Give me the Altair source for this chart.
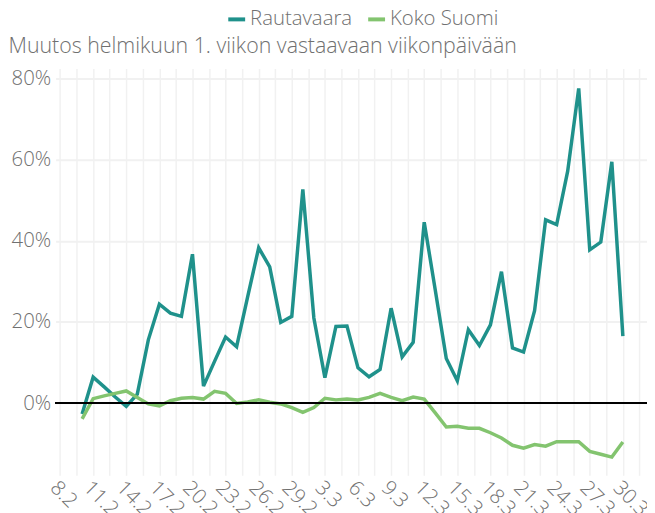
import altair as alt
import pandas as pd

# ---- data ----
dates = [d.strftime("%Y-%m-%d") for d in pd.date_range("2020-02-10", "2020-03-30", freq="D")]

rautavaara = [
    -2.7, 6.4, 4.0, 1.5, -0.8, 2.2, 15.6, 24.4, 22.2, 21.4,
    36.7, 4.2, 10.3, 16.3, 13.9, 26.2, 38.3, 33.6, 19.9, 21.4,
    52.7, 21.0, 6.3, 18.9, 19.0, 8.7, 6.5, 8.3, 23.4, 11.4,
    15.0, 44.6, 27.9, 11.0, 5.5, 18.1, 14.2, 19.3, 32.4, 13.6,
    12.6, 22.8, 45.2, 44.0, 57.2, 77.6, 37.8, 39.7, 59.5, 16.5,
]
koko_suomi = [
    -3.9, 1.1, 1.8, 2.4, 3.0, 1.4, -0.2, -0.7, 0.6, 1.2,
    1.4, 1.0, 2.9, 2.4, -0.1, 0.3, 0.8, 0.2, -0.2, -1.1,
    -2.3, -1.1, 1.2, 0.8, 1.0, 0.8, 1.4, 2.4, 1.4, 0.6,
    1.5, 1.0, -2.4, -5.9, -5.7, -6.2, -6.2, -7.3, -8.6, -10.4,
    -11.1, -10.2, -10.6, -9.5, -9.5, -9.5, -11.9, -12.6, -13.3, -9.6,
]
series_names = ["Rautavaara", "Koko Suomi"]
series_colors = ["#1f918b", "#83c46f"]
y_ticks = [0, 20, 40, 60, 80]
title_text = "Muutos helmikuun 1. viikon vastaavaan viikonpäivään"

rows = []
for d, v in zip(dates, rautavaara):
    rows.append({"date": d, "value": v, "series": series_names[0]})
for d, v in zip(dates, koko_suomi):
    rows.append({"date": d, "value": v, "series": series_names[1]})
df = pd.DataFrame(rows)

def ms(s):
    return int(pd.Timestamp(s, tz="UTC").value // 10**6)

x_domain = [ms("2020-02-07T14:24:00"), ms("2020-04-01T04:30:00")]
# grid every 36 hours, labels every 3 days
grid_values = [ms("2020-02-08") + i * 36 * 3600 * 1000 for i in range(0, 36)]

FONT = "Open Sans"
GRAY = "#707070"
GRID = "#f1f1f1"

x_enc = alt.X(
    "date:T",
    scale=alt.Scale(type="utc", domain=x_domain, nice=False),
    axis=alt.Axis(
        values=grid_values,
        labelExpr="utchours(datum.value) == 0 ? utcFormat(datum.value, '%-d.%-m') : ''",
        labelAngle=45,
        labelAlign="left",
        labelBaseline="top",
        labelPadding=2,
        labelFontSize=20.5,
        labelFont=FONT,
        labelFontWeight=300,
        labelColor=GRAY,
        labelOverlap=False,
        labelFlush=False,
        ticks=False,
        domain=False,
        grid=True,
        gridColor=GRID,
        gridWidth=1.5,
        title=None,
    ),
)

y_enc = alt.Y(
    "value:Q",
    scale=alt.Scale(domain=[-17.8, 82.5], nice=False, zero=False),
    axis=alt.Axis(
        values=y_ticks,
        labelExpr="datum.value + '%'",
        labelFontSize=20.5,
        labelFont=FONT,
        labelFontWeight=300,
        labelColor=GRAY,
        labelPadding=5,
        ticks=False,
        domain=False,
        grid=True,
        gridColor=GRID,
        gridWidth=2,
        title=title_text,
        titleAngle=0,
        titleAlign="left",
        titleBaseline="middle",
        titleX=-48,
        titleY=-22,
        titleFont=FONT,
        titleFontSize=21.5,
        titleFontWeight=300,
        titleColor=GRAY,
    ),
)

zero_rule = alt.Chart(df).mark_rule(color="#000000", strokeWidth=1.2).encode(y=alt.datum(0))

lines = alt.Chart(df).mark_line(strokeWidth=3.5, strokeJoin="miter", strokeMiterLimit=4).encode(
    x=x_enc,
    y=y_enc,
    color=alt.Color(
        "series:N",
        scale=alt.Scale(domain=series_names, range=series_colors),
        legend=alt.Legend(
            title=None,
            orient="none",
            direction="horizontal",
            legendX=172,
            legendY=-60,
            symbolType="stroke",
            symbolStrokeWidth=4,
            symbolSize=289,
            labelFontSize=20.5,
            labelFont=FONT,
            labelFontWeight=300,
            labelColor=GRAY,
            labelOffset=3,
            columnPadding=8,
        ),
    ),
)

chart = alt.layer(lines, zero_rule).properties(
    width=596,
    height=410,
    autosize=alt.AutoSizeParams(type="none"),
    padding={"left": 48, "top": 59, "right": 0, "bottom": 36},
).configure_view(stroke=None)

chart.save("out.html", embed_options={"renderer": "svg", "actions": False})
